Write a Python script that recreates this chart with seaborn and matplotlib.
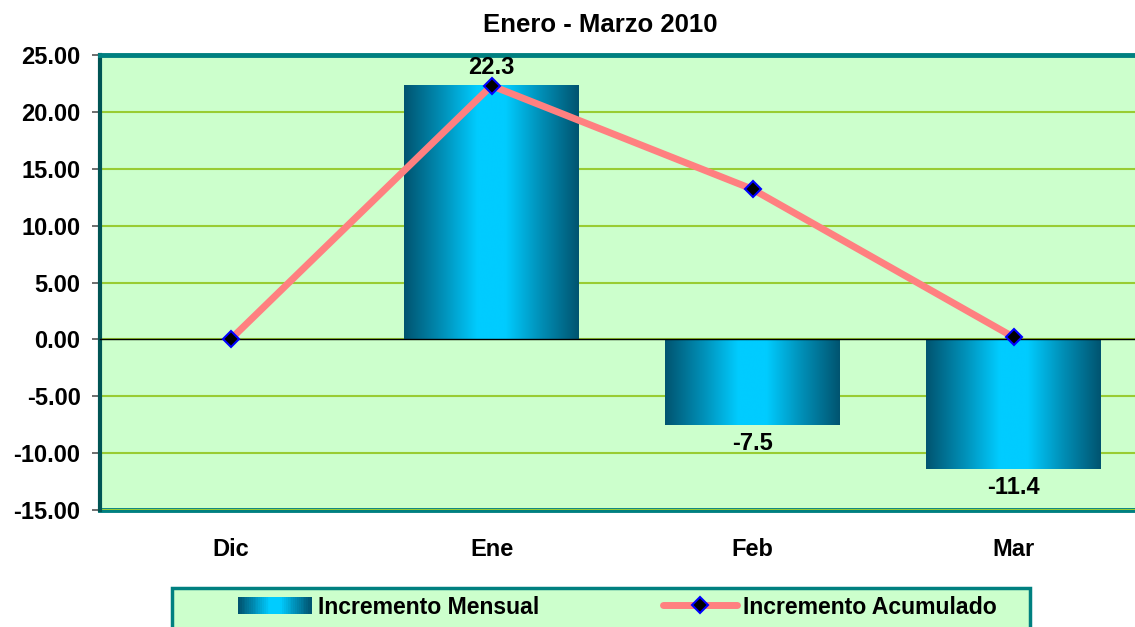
import matplotlib
matplotlib.use("Agg")
import matplotlib.pyplot as plt
import seaborn as sns
import pandas as pd
import numpy as np
from matplotlib.colors import LinearSegmentedColormap
from matplotlib.patches import Patch, Rectangle
from matplotlib.lines import Line2D
from matplotlib.legend_handler import HandlerBase

meses = ["Dic", "Ene", "Feb", "Mar"]
incremento_mensual = [0.0, 22.3, -7.5, -11.4]
incremento_acumulado = [0.0, 22.3, 13.2, 0.2]
y_ticks = [-15, -10, -5, 0, 5, 10, 15, 20, 25]
titulo = "Enero - Marzo 2010"

sns.set_style("white")
plt.rcParams["font.family"] = ["Liberation Sans", "DejaVu Sans"]
plt.rcParams["font.weight"] = "bold"
plt.rcParams["axes.unicode_minus"] = False
plt.rcParams["text.color"] = "black"
plt.rcParams["xtick.color"] = "black"
plt.rcParams["ytick.color"] = "black"

VERDE_FONDO = "#ccffcc"
TEAL = "#008080"
ROSA = "#ff8080"
GRID = "#99cc33"

barra_cmap = LinearSegmentedColormap.from_list(
    "barra",
    [(0.0, "#005470"), (0.22, "#0090b8"), (0.42, "#00ccff"),
     (0.58, "#00ccff"), (0.78, "#0090b8"), (1.0, "#005470")],
)


class GradientHandler(HandlerBase):
    def create_artists(self, legend, orig_handle, xdescent, ydescent,
                       width, height, fontsize, trans):
        n = 40
        rects = []
        for i in range(n):
            rects.append(Rectangle(
                (-xdescent + i * width / n, -ydescent), width / n * 1.05, height,
                facecolor=barra_cmap(i / (n - 1)), edgecolor="none", transform=trans))
        return rects


df = pd.DataFrame({
    "mes": meses,
    "mensual": incremento_mensual,
    "acumulado": incremento_acumulado,
})

fig = plt.figure(figsize=(11.35, 6.27), dpi=100)
W, H = 1135, 627
ax = fig.add_axes([100 / W, 1 - 510 / H, 1044 / W, 455 / H])
ax.set_facecolor(VERDE_FONDO)

sns.barplot(data=df, x="mes", y="mensual", width=0.667, ax=ax,
            color="none", edgecolor="none", zorder=2)

# gradient fill on each bar
grad = np.linspace(0, 1, 256).reshape(1, -1)
for patch, val in zip(ax.patches, incremento_mensual):
    if val == 0:
        continue
    x0 = patch.get_x()
    x1 = x0 + patch.get_width()
    y0, y1 = sorted([patch.get_y(), patch.get_y() + patch.get_height()])
    ax.imshow(grad, extent=[x0, x1, y0, y1], cmap=barra_cmap, aspect="auto",
              interpolation="bicubic", zorder=2)
    if val > 0:
        ax.annotate(f"{val:.1f}", (x0 + patch.get_width() / 2, val),
                    xytext=(0, 5), textcoords="offset points",
                    ha="center", va="bottom", fontsize=17, fontweight="bold")
    else:
        ax.annotate(f"{val:.1f}", (x0 + patch.get_width() / 2, val),
                    xytext=(0, -5), textcoords="offset points",
                    ha="center", va="top", fontsize=17, fontweight="bold")

sns.lineplot(data=df, x="mes", y="acumulado", sort=False, ax=ax,
             color=ROSA, linewidth=5, marker="D", markersize=8.5,
             markerfacecolor="black", markeredgecolor="blue",
             markeredgewidth=1.5, zorder=4)

ax.set_xlim(-0.5, len(meses) - 0.5)
ax.set_ylim(min(y_ticks), max(y_ticks))
ax.set_yticks(y_ticks)
ax.set_yticklabels([f"{t:.2f}" for t in y_ticks])
ax.yaxis.grid(True, color=GRID, linewidth=1.5)
ax.set_axisbelow(True)
ax.set_xlabel("")
ax.set_ylabel("")
ax.tick_params(axis="y", which="major", direction="out", length=6, width=1.2,
               color="#555555", pad=8, labelsize=17, left=True)

# category axis crossing at zero
ax.spines["bottom"].set_position(("data", 0))
ax.spines["bottom"].set_color("black")
ax.spines["bottom"].set_linewidth(1)
ax.tick_params(axis="x", which="major", length=0, labelbottom=False)
ax.set_xticks(np.arange(len(meses) - 1) + 0.5, minor=True)
ax.tick_params(axis="x", which="minor", direction="out", length=6,
               width=1.2, color="#555555")

ax.spines["top"].set_color(TEAL)
ax.spines["top"].set_linewidth(3.5)
ax.spines["left"].set_color("#005555")
ax.spines["left"].set_linewidth(3)
ax.spines["right"].set_visible(False)

sec = ax.secondary_xaxis("bottom")
sec.set_xticks(range(len(meses)))
sec.set_xticklabels(meses)
sec.tick_params(length=0, pad=20, labelsize=17)
sec.spines["bottom"].set_color(TEAL)
sec.spines["bottom"].set_linewidth(3.5)

fig.text(600 / W, 1 - 25 / H, titulo, ha="center", va="center",
         fontsize=18.5, fontweight="bold")

# legend box
fig.patches.append(Rectangle((172 / W, -0.05), (1030 - 172) / W, 0.05 + (1 - 588 / H),
                             transform=fig.transFigure, facecolor=VERDE_FONDO,
                             edgecolor=TEAL, linewidth=2.5, zorder=0))
handles = [
    Patch(label="Incremento Mensual"),
    Line2D([], [], color=ROSA, linewidth=5, marker="D", markersize=8.5,
           markerfacecolor="black", markeredgecolor="blue", markeredgewidth=1.5,
           label="Incremento Acumulado"),
]
fig.legend(handles=handles, handler_map={Patch: GradientHandler()},
           loc="center left", bbox_to_anchor=(238 / W, 1 - 607 / H), ncol=2,
           frameon=False, handlelength=3.2, handletextpad=0.25, columnspacing=5.4,
           borderpad=0, borderaxespad=0,
           prop={"size": 16.6, "weight": "bold"})

fig.savefig("out.png", dpi=100)
